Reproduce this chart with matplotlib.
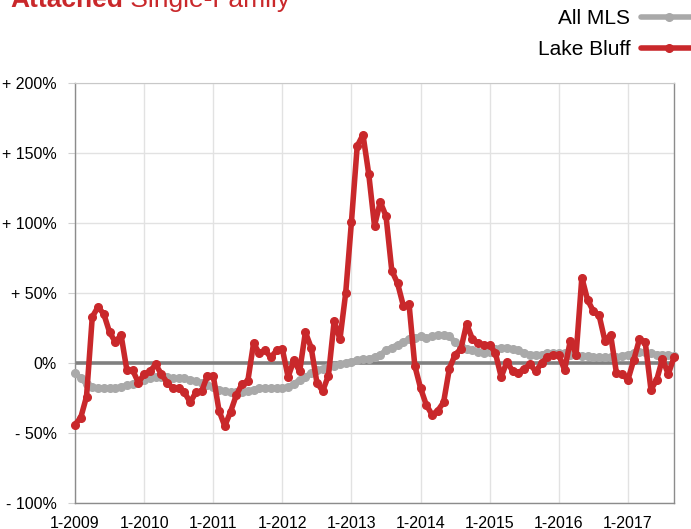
import matplotlib
matplotlib.use("Agg")
import matplotlib.pyplot as plt
import numpy as np

# Monthly data, Jan 2009 .. Sep 2017
lake_bluff = [
    -44, -39, -24, 33, 40, 35, 22, 15, 20, -5, -5, -14,
    -8, -6, -1, -8, -14, -18, -18, -21, -28, -21, -20, -9,
    -9, -34, -45, -35, -23, -15, -13, 14, 7, 9, 4, 9,
    10, -10, 2, -6, 22, 11, -14, -20, -9, 30, 17, 50,
    101, 155, 163, 135, 98, 115, 105, 66, 57, 41, 42, -2,
    -18, -30, -37, -34, -28, -4, 6, 10, 28, 17, 14, 13,
    13, 7, -10, 1, -6, -7, -4, -1, -6, 0, 4, 6,
    6, -5, 16, 6, 61, 45, 37, 34, 16, 20, -7, -8,
    -12, 2, 17, 15, -19, -12, 3, -8, 4,
]
all_mls = [
    -7, -11, -15, -17, -18, -18, -18, -18, -17, -16, -15, -13,
    -12, -11, -10, -10, -10, -11, -11, -11, -12, -13, -14, -16,
    -17, -19, -20, -21, -21, -21, -20, -19, -18, -18, -18, -18,
    -18, -17, -15, -12, -10, -7, -5, -4, -3, -2, -1, 0,
    1, 2, 3, 3, 4, 6, 9, 11, 13, 15, 17, 18,
    19, 18, 19, 20, 20, 19, 15, 12, 10, 9, 8, 7,
    8, 10, 11, 11, 10, 9, 7, 6, 6, 6, 7, 7,
    7, 7, 6, 6, 5, 5, 4, 4, 4, 4, 4, 5,
    6, 7, 8, 8, 7, 6, 6, 6, 5,
]
x_tick_labels = ["1-2009", "1-2010", "1-2011", "1-2012", "1-2013",
                 "1-2014", "1-2015", "1-2016", "1-2017"]
y_ticks = [-100, -50, 0, 50, 100, 150, 200]
y_tick_labels = ["- 100%", "- 50%", "0%", "+ 50%", "+ 100%", "+ 150%", "+ 200%"]
series_names = ["All MLS", "Lake Bluff"]
title_bold = "Attached"
title_rest = " Single-Family"

plt.rcParams['font.family'] = ['Liberation Sans', 'DejaVu Sans']

RED = "#C9282B"
GRAY = "#A9A9A9"

fig = plt.figure(figsize=(6.91, 5.29), dpi=100)
ax = fig.add_axes([75/691, 1-503/529, (674-75)/691, (503-83)/529])

months = np.arange(len(lake_bluff))
ax.axhline(0, color="#808080", lw=2.6, zorder=2)
ax.plot(months, all_mls, color=GRAY, lw=4.0, marker="o", ms=5.5,
        label=series_names[0], zorder=3, clip_on=False, solid_capstyle="round")
ax.plot(months, lake_bluff, color=RED, lw=4.0, marker="o", ms=5.5,
        label=series_names[1], zorder=4, clip_on=False, solid_capstyle="round")

ax.set_xlim(0, len(lake_bluff) - 1)
ax.set_ylim(-100, 200)
ax.set_xticks(np.arange(0, len(x_tick_labels) * 12, 12))
ax.set_xticklabels(x_tick_labels, fontsize=11.5)
ax.set_yticks(y_ticks)
ax.set_yticklabels(y_tick_labels, fontsize=11.5)
ax.grid(True, color="#E2E2E2", lw=1.0, zorder=0)
ax.set_axisbelow(True)
ax.tick_params(axis="y", length=5, color="#D0D0D0", pad=8)
ax.tick_params(axis="x", length=0, pad=9)
for s in ["left", "bottom", "right"]:
    ax.spines[s].set_color("#8C8C8C")
    ax.spines[s].set_linewidth(1.0)
ax.spines["top"].set_color("#C8C8C8")

leg = ax.legend(loc="upper right", bbox_to_anchor=(697/691, 1 - 9/529),
                bbox_transform=fig.transFigure, frameon=False, markerfirst=False,
                fontsize=15, handlelength=2.7, handletextpad=0.5,
                labelspacing=0.58, borderpad=0, borderaxespad=0)

t1 = fig.text(10/691, 1 - 7/529, title_bold, color=RED, fontsize=19,
              fontweight="bold", va="baseline", ha="left")
fig.canvas.draw()
bb = t1.get_window_extent()
fig.text(bb.x1 / fig.bbox.width, 1 - 7/529, title_rest, color=RED, fontsize=19,
         va="baseline", ha="left")

fig.savefig("out.png", dpi=100)
